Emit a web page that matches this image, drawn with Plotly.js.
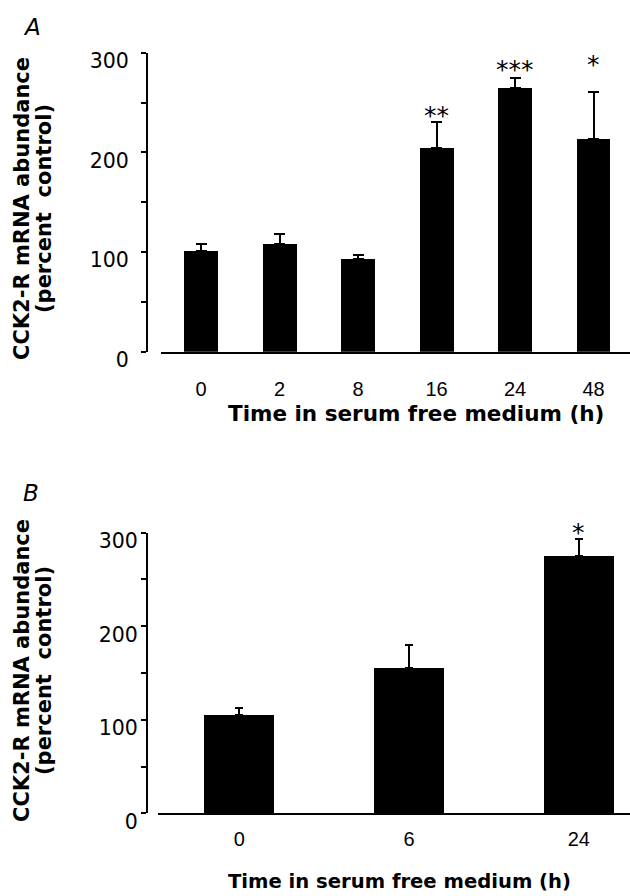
<!DOCTYPE html>
<html>
<head>
<meta charset="utf-8">
<script src="https://cdn.plot.ly/plotly-3.0.1.min.js"></script>
<style>
  html, body { margin: 0; padding: 0; background: #fff; }
  #chart { width: 630px; height: 896px; }
</style>
</head>
<body>
<div id="chart"></div>
<script>
// ---- Panel A data ----
const catsA = ['0', '2', '8', '16', '24', '48'];
const valsA = [101, 108, 93, 204, 265, 213];
const errA  = [7, 10, 4, 26, 10, 48];
const sigA  = ['', '', '', '**', '***', '*'];
const sigYA = [null, null, null, 241, 287, 292];

// ---- Panel B data ----
const catsB = ['0', '6', '24'];
const valsB = [105, 155, 275];
const errB  = [8, 25, 18];
const sigB  = ['', '', '*'];
const sigYB = [null, null, 305];

// ---- Axis ticks / labels ----
const yTickVals = [0, 100, 200, 300];
const yTitleLine1 = 'CCK2-R mRNA abundance';
const yTitleLine2 = '(percent  control)';
const xTitle = 'Time in serum free medium (h)';

const W = 630, H = 896;
const px = v => v / W;
const py = v => (H - v) / H;
const YMAX = 300;

// pixel geometry of the two panels
const A = { x0: 161, axisX: 147, yBot: 351.7, yTop: 52.7, range: [-0.5096, 5.465] };
const B = { x0: 158.3, axisX: 147, yBot: 813.3, yTop: 532.7, range: [-0.4764, 2.3015] };

const bold = 'DejaVu Sans, Arial, sans-serif';

function barTrace(cats, vals, errs, xa, ya, width, capw) {
  return {
    type: 'bar', x: cats, y: vals, xaxis: xa, yaxis: ya,
    width: width,
    marker: { color: '#000', line: { width: 0 } },
    error_y: {
      type: 'data', symmetric: false, array: errs,
      arrayminus: errs.map(() => 0),
      color: '#000', thickness: 2, width: capw
    },
    hoverinfo: 'none', showlegend: false
  };
}

const data = [
  { type: 'scatter', x: [], y: [], xaxis: 'x', yaxis: 'y3', showlegend: false, hoverinfo: 'none' },
  { type: 'scatter', x: [], y: [], xaxis: 'x2', yaxis: 'y4', showlegend: false, hoverinfo: 'none' },
  barTrace(catsA, valsA, errA, 'x', 'y', 0.433, 5.5),
  barTrace(catsB, valsB, errB, 'x2', 'y2', 0.409, 4)
];

// main y axis: line and ticks
function yAxis(P) {
  return {
    domain: [py(P.yBot), py(P.yTop)], range: [0, YMAX], anchor: 'free', position: px(P.axisX),
    showline: true, linecolor: '#000', linewidth: 2,
    ticks: 'outside', ticklen: 5, tickwidth: 2, tickcolor: '#000',
    tickmode: 'array', tickvals: yTickVals, showticklabels: false,
    minor: { dtick: 50, tick0: 0, ticks: 'outside', ticklen: 5, tickwidth: 2, tickcolor: '#000', showgrid: false },
    showgrid: false, zeroline: false, fixedrange: true
  };
}
// companion y axis carrying the tick labels, same scale but set a few pixels lower (as in the figure)
function yLabelAxis(P, shiftPx, standoff) {
  return {
    domain: [py(P.yBot + shiftPx), py(P.yTop + shiftPx)], range: [0, YMAX],
    anchor: 'free', position: px(P.axisX),
    showline: false, ticks: 'outside', ticklen: 5, tickcolor: 'rgba(0,0,0,0)',
    tickmode: 'array', tickvals: yTickVals, ticklabelstandoff: standoff,
    tickfont: { family: 'DejaVu Sans, sans-serif', size: 20.5, color: '#000' },
    showgrid: false, zeroline: false, fixedrange: true
  };
}

function xAxis(P, anchor, standoff) {
  return {
    domain: [px(P.x0), 1], range: P.range, anchor: anchor, type: 'category',
    showline: true, linecolor: '#000', linewidth: 2,
    ticks: '', ticklabelstandoff: standoff,
    tickfont: { family: 'Liberation Sans, Arial, sans-serif', size: 20, color: '#000' },
    showgrid: false, zeroline: false, fixedrange: true
  };
}

const annotations = [];
function addStars(P, sig, sigY, xref, yref) {
  const pxPerUnit = (P.yBot - P.yTop) / YMAX;
  sig.forEach((s, i) => {
    if (!s) return;
    const anchorY = Math.min(sigY[i], YMAX);
    annotations.push({
      x: i, y: anchorY, xref: xref, yref: yref, text: s, showarrow: false,
      xanchor: 'center', yanchor: 'middle',
      yshift: (sigY[i] - anchorY) * pxPerUnit - 4,
      font: { family: 'DejaVu Sans, sans-serif', size: 25, color: '#000' }
    });
  });
}
addStars(A, sigA, sigYA, 'x', 'y');
addStars(B, sigB, sigYB, 'x2', 'y2');

function txt(text, x, y, size, angle) {
  annotations.push({
    text: text, x: px(x), y: py(y), xref: 'paper', yref: 'paper', showarrow: false,
    xanchor: 'center', yanchor: 'middle', textangle: angle,
    font: { family: bold, size: size, color: '#000', weight: 'bold' }
  });
}
// panel letters
annotations.push({ text: '<i>A</i>', x: px(32), y: py(27), xref: 'paper', yref: 'paper', showarrow: false,
  xanchor: 'center', yanchor: 'middle', font: { family: 'DejaVu Sans, sans-serif', size: 23, color: '#000' } });
annotations.push({ text: '<i>B</i>', x: px(31), y: py(493), xref: 'paper', yref: 'paper', showarrow: false,
  xanchor: 'center', yanchor: 'middle', font: { family: 'DejaVu Sans, sans-serif', size: 23, color: '#000' } });
// y titles
txt(yTitleLine1, 22, 209, 21, -90);
txt(yTitleLine2, 44, 209, 21, -90);
txt(yTitleLine1, 22, 671, 21, -90);
txt(yTitleLine2, 44, 671, 21, -90);
// x titles
txt(xTitle, 416, 413, 21.5, 0);
txt(xTitle, 399, 881, 19.6, 0);

const layout = {
  width: W, height: H,
  margin: { l: 0, r: 0, t: 0, b: 0, pad: 0 },
  paper_bgcolor: '#fff', plot_bgcolor: 'rgba(0,0,0,0)',
  showlegend: false, bargap: 0,
  xaxis: xAxis(A, 'y', 18),
  yaxis: yAxis(A),
  yaxis3: yLabelAxis(A, 8, 9),
  xaxis2: xAxis(B, 'y2', 7),
  yaxis2: yAxis(B),
  yaxis4: yLabelAxis(B, 8.5, 0),
  annotations: annotations
};

Plotly.newPlot('chart', data, layout, { displayModeBar: false, staticPlot: true });
</script>
</body>
</html>
